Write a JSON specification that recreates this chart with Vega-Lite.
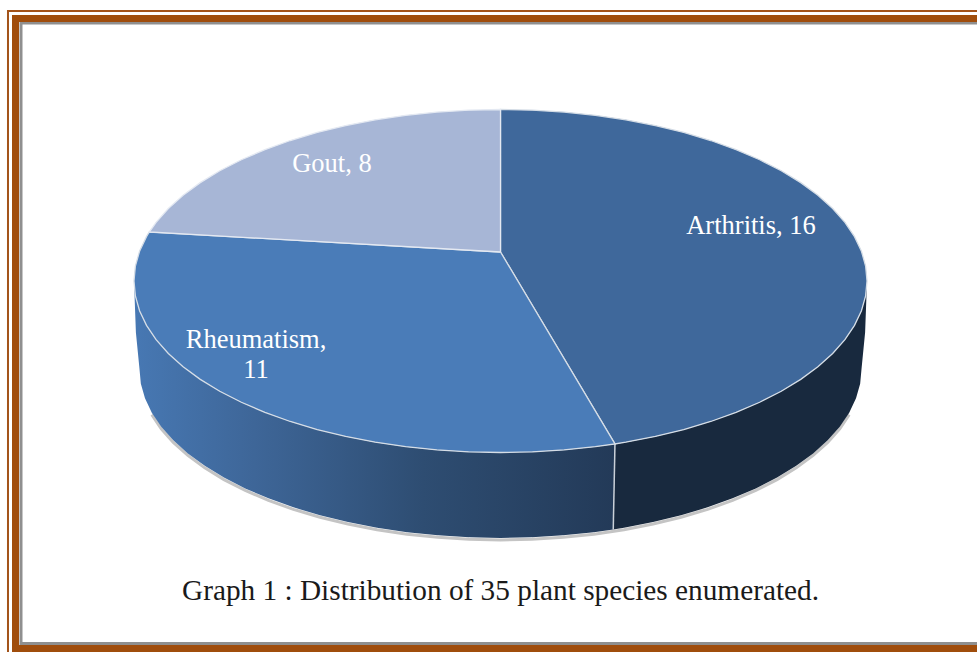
{"$schema":"https://vega.github.io/schema/vega-lite/v6.json","width":977,"height":652,"padding":0,"autosize":"none","background":"#ffffff","config":{"view":{"stroke":null}},
"datasets":{
"labels":[{"category":"Arthritis","value":16,"label":"Arthritis, 16","x":0.6835,"y":0.3207},{"category":"Rheumatism","value":11,"label":"Rheumatism,\n11","x":-0.6671,"y":-0.344},{"category":"Gout","value":8,"label":"Gout, 8","x":-0.4598,"y":0.6822}],
"caption":[{"label":"Graph 1 : Distribution of 35 plant species enumerated.","x":0,"y":-1.8076}],
"frame":[{"part":"thin","x":-1.3438,"x2":1.3629,"y":1.5743,"y2":-2.443},{"part":"thick","x":-1.3233,"x2":1.3629,"y":1.5306,"y2":-2.1429},{"part":"grey","x":-1.3083,"x2":1.3629,"y":1.5044,"y2":-2.1137}],
"arthritis":[{"x":0,"y":0.1691},{"x":0,"y":1},{"x":0.0872,"y":0.9962},{"x":0.1736,"y":0.9848},{"x":0.2588,"y":0.9659},{"x":0.342,"y":0.9397},{"x":0.4226,"y":0.9063},{"x":0.5,"y":0.866},{"x":0.5736,"y":0.8192},{"x":0.6428,"y":0.766},{"x":0.7071,"y":0.7071},{"x":0.766,"y":0.6428},{"x":0.8192,"y":0.5736},{"x":0.866,"y":0.5},{"x":0.9063,"y":0.4226},{"x":0.9397,"y":0.342},{"x":0.9659,"y":0.2588},{"x":0.9848,"y":0.1736},{"x":0.9962,"y":0.0872},{"x":1,"y":0},{"x":0.9962,"y":-0.0872},{"x":0.9848,"y":-0.1736},{"x":0.9659,"y":-0.2588},{"x":0.9397,"y":-0.342},{"x":0.9063,"y":-0.4226},{"x":0.866,"y":-0.5},{"x":0.8192,"y":-0.5736},{"x":0.766,"y":-0.6428},{"x":0.7071,"y":-0.7071},{"x":0.6428,"y":-0.766},{"x":0.5736,"y":-0.8192},{"x":0.5,"y":-0.866},{"x":0.4226,"y":-0.9063},{"x":0.342,"y":-0.9397},{"x":0.3123,"y":-0.95},{"x":0,"y":0.1691}],
"rheumatism":[{"x":0,"y":0.1691},{"x":0.3123,"y":-0.95},{"x":0.2588,"y":-0.9659},{"x":0.1736,"y":-0.9848},{"x":0.0872,"y":-0.9962},{"x":0,"y":-1},{"x":-0.0872,"y":-0.9962},{"x":-0.1736,"y":-0.9848},{"x":-0.2588,"y":-0.9659},{"x":-0.342,"y":-0.9397},{"x":-0.4226,"y":-0.9063},{"x":-0.5,"y":-0.866},{"x":-0.5736,"y":-0.8192},{"x":-0.6428,"y":-0.766},{"x":-0.7071,"y":-0.7071},{"x":-0.766,"y":-0.6428},{"x":-0.8192,"y":-0.5736},{"x":-0.866,"y":-0.5},{"x":-0.9063,"y":-0.4226},{"x":-0.9397,"y":-0.342},{"x":-0.9659,"y":-0.2588},{"x":-0.9848,"y":-0.1736},{"x":-0.9962,"y":-0.0872},{"x":-1,"y":0},{"x":-0.9962,"y":0.0872},{"x":-0.9848,"y":0.1736},{"x":-0.9659,"y":0.2588},{"x":-0.9583,"y":0.2857},{"x":0,"y":0.1691}],
"gout":[{"x":0,"y":0.1691},{"x":-0.9583,"y":0.2857},{"x":-0.9397,"y":0.342},{"x":-0.9063,"y":0.4226},{"x":-0.866,"y":0.5},{"x":-0.8192,"y":0.5736},{"x":-0.766,"y":0.6428},{"x":-0.7071,"y":0.7071},{"x":-0.6428,"y":0.766},{"x":-0.5736,"y":0.8192},{"x":-0.5,"y":0.866},{"x":-0.4226,"y":0.9063},{"x":-0.342,"y":0.9397},{"x":-0.2588,"y":0.9659},{"x":-0.1736,"y":0.9848},{"x":-0.0872,"y":0.9962},{"x":0,"y":1},{"x":0,"y":0.1691}],
"wallLeft":[{"x":0.3123,"y":-0.95},{"x":0.2588,"y":-0.9659},{"x":0.1736,"y":-0.9848},{"x":0.0872,"y":-0.9962},{"x":0,"y":-1},{"x":-0.0872,"y":-0.9962},{"x":-0.1736,"y":-0.9848},{"x":-0.2588,"y":-0.9659},{"x":-0.342,"y":-0.9397},{"x":-0.4226,"y":-0.9063},{"x":-0.5,"y":-0.866},{"x":-0.5736,"y":-0.8192},{"x":-0.6428,"y":-0.766},{"x":-0.7071,"y":-0.7071},{"x":-0.766,"y":-0.6428},{"x":-0.8192,"y":-0.5736},{"x":-0.866,"y":-0.5},{"x":-0.9063,"y":-0.4226},{"x":-0.9397,"y":-0.342},{"x":-0.9659,"y":-0.2588},{"x":-0.9848,"y":-0.1736},{"x":-0.9962,"y":-0.0872},{"x":-1,"y":0},{"x":-0.9948,"y":-0.3},{"x":-0.985,"y":-0.513},{"x":-0.9813,"y":-0.5989},{"x":-0.97,"y":-0.684},{"x":-0.9514,"y":-0.7679},{"x":-0.9256,"y":-0.8499},{"x":-0.8927,"y":-0.9293},{"x":-0.853,"y":-1.0055},{"x":-0.8069,"y":-1.078},{"x":-0.7545,"y":-1.1462},{"x":-0.6965,"y":-1.2095},{"x":-0.6332,"y":-1.2675},{"x":-0.565,"y":-1.3199},{"x":-0.4925,"y":-1.366},{"x":-0.4163,"y":-1.4057},{"x":-0.3369,"y":-1.4386},{"x":-0.2549,"y":-1.4644},{"x":-0.171,"y":-1.483},{"x":-0.0859,"y":-1.4943},{"x":0,"y":-1.498},{"x":0.0859,"y":-1.4943},{"x":0.171,"y":-1.483},{"x":0.2549,"y":-1.4644},{"x":0.3076,"y":-1.4488}],
"wallRight":[{"x":1,"y":0},{"x":0.9962,"y":-0.0872},{"x":0.9848,"y":-0.1736},{"x":0.9659,"y":-0.2588},{"x":0.9397,"y":-0.342},{"x":0.9063,"y":-0.4226},{"x":0.866,"y":-0.5},{"x":0.8192,"y":-0.5736},{"x":0.766,"y":-0.6428},{"x":0.7071,"y":-0.7071},{"x":0.6428,"y":-0.766},{"x":0.5736,"y":-0.8192},{"x":0.5,"y":-0.866},{"x":0.4226,"y":-0.9063},{"x":0.342,"y":-0.9397},{"x":0.3123,"y":-0.95},{"x":0.3076,"y":-1.4488},{"x":0.3369,"y":-1.4386},{"x":0.4163,"y":-1.4057},{"x":0.4925,"y":-1.366},{"x":0.565,"y":-1.3199},{"x":0.6332,"y":-1.2675},{"x":0.6965,"y":-1.2095},{"x":0.7545,"y":-1.1462},{"x":0.8069,"y":-1.078},{"x":0.853,"y":-1.0055},{"x":0.8927,"y":-0.9293},{"x":0.9256,"y":-0.8499},{"x":0.9514,"y":-0.7679},{"x":0.97,"y":-0.684},{"x":0.9813,"y":-0.5989},{"x":0.985,"y":-0.513},{"x":0.9948,"y":-0.3}],
"rim":[{"x":-0.9514,"y":-0.7679},{"x":-0.9256,"y":-0.8499},{"x":-0.8927,"y":-0.9293},{"x":-0.853,"y":-1.0055},{"x":-0.8069,"y":-1.078},{"x":-0.7545,"y":-1.1462},{"x":-0.6965,"y":-1.2095},{"x":-0.6332,"y":-1.2675},{"x":-0.565,"y":-1.3199},{"x":-0.4925,"y":-1.366},{"x":-0.4163,"y":-1.4057},{"x":-0.3369,"y":-1.4386},{"x":-0.2549,"y":-1.4644},{"x":-0.171,"y":-1.483},{"x":-0.0859,"y":-1.4943},{"x":0,"y":-1.498},{"x":0.0859,"y":-1.4943},{"x":0.171,"y":-1.483},{"x":0.2549,"y":-1.4644},{"x":0.3369,"y":-1.4386},{"x":0.4163,"y":-1.4057},{"x":0.4925,"y":-1.366},{"x":0.565,"y":-1.3199},{"x":0.6332,"y":-1.2675},{"x":0.6965,"y":-1.2095},{"x":0.7545,"y":-1.1462},{"x":0.8069,"y":-1.078},{"x":0.853,"y":-1.0055},{"x":0.8927,"y":-0.9293},{"x":0.9256,"y":-0.8499},{"x":0.9514,"y":-0.7679}],
"divider":[{"x":0.3123,"y":-0.95},{"x":0.3076,"y":-1.4488}]
},
"encoding":{
"x":{"field":"x","type":"quantitative","axis":null,"scale":{"domain":[-1.3656,1.3001],"nice":false,"zero":false}},
"y":{"field":"y","type":"quantitative","axis":null,"scale":{"domain":[-2.1633,1.6385],"nice":false,"zero":false}}
},
"layer":[
{"data":{"name":"rim"},"transform":[{"window":[{"op":"row_number","as":"seq"}]}],"mark":{"type":"line","stroke":"#c4c4c4","strokeWidth":3,"yOffset":2},"encoding":{"order":{"field":"seq","type":"quantitative"}}},
{"data":{"name":"wallLeft"},"transform":[{"window":[{"op":"row_number","as":"seq"}]}],"mark":{"type":"line","strokeWidth":0,"fill":{"x1":0,"y1":0,"x2":1,"y2":0,"gradient":"linear","stops":[{"offset":0,"color":"#4778b3"},{"offset":0.25,"color":"#3e6698"},{"offset":0.6,"color":"#2e4d72"},{"offset":1,"color":"#233a58"}]}},"encoding":{"order":{"field":"seq","type":"quantitative"}}},
{"data":{"name":"wallRight"},"transform":[{"window":[{"op":"row_number","as":"seq"}]}],"mark":{"type":"line","strokeWidth":0,"fill":"#18293e"},"encoding":{"order":{"field":"seq","type":"quantitative"}}},
{"data":{"name":"divider"},"transform":[{"window":[{"op":"row_number","as":"seq"}]}],"mark":{"type":"line","stroke":"#c9d0d8","strokeWidth":1.5},"encoding":{"order":{"field":"seq","type":"quantitative"}}},
{"data":{"name":"arthritis"},"transform":[{"window":[{"op":"row_number","as":"seq"}]}],"mark":{"type":"line","fill":"#3f689b","stroke":"#d5dde6","strokeWidth":1.3},"encoding":{"order":{"field":"seq","type":"quantitative"}}},
{"data":{"name":"rheumatism"},"transform":[{"window":[{"op":"row_number","as":"seq"}]}],"mark":{"type":"line","fill":"#4a7cb8","stroke":"#d5dde6","strokeWidth":1.3},"encoding":{"order":{"field":"seq","type":"quantitative"}}},
{"data":{"name":"gout"},"transform":[{"window":[{"op":"row_number","as":"seq"}]}],"mark":{"type":"line","fill":"#a7b6d6","stroke":"#e4e9f2","strokeWidth":1.3},"encoding":{"order":{"field":"seq","type":"quantitative"}}},
{"data":{"name":"labels"},"mark":{"type":"text","font":"Liberation Serif","fontSize":26.5,"color":"#ffffff","align":"center","baseline":"middle","lineBreak":"\n","lineHeight":30},"encoding":{"text":{"field":"label"}}},
{"data":{"name":"caption"},"mark":{"type":"text","font":"Liberation Serif","fontSize":29.3,"color":"#1a1a1a","align":"center","baseline":"middle"},"encoding":{"text":{"field":"label"}}},
{"data":{"name":"frame"},"transform":[{"filter":"datum.part=='thin'"}],"mark":{"type":"rect","fill":null,"stroke":"#a3531a","strokeWidth":2},"encoding":{"x2":{"field":"x2"},"y2":{"field":"y2"}}},
{"data":{"name":"frame"},"transform":[{"filter":"datum.part=='grey'"}],"mark":{"type":"rect","fill":null,"stroke":"#8f8f8f","strokeWidth":3},"encoding":{"x2":{"field":"x2"},"y2":{"field":"y2"}}},
{"data":{"name":"frame"},"transform":[{"filter":"datum.part=='thick'"}],"mark":{"type":"rect","fill":null,"stroke":"#a04d0c","strokeWidth":7},"encoding":{"x2":{"field":"x2"},"y2":{"field":"y2"}}}
]}
